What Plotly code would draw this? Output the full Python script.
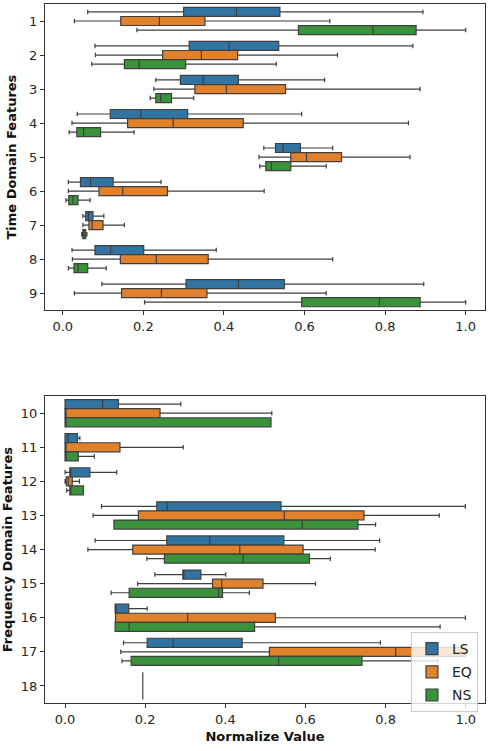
import plotly.graph_objects as go

# ---------------- data ----------------
TIME_FEATURES = ["1", "2", "3", "4", "5", "6", "7", "8", "9"]
FREQ_FEATURES = ["10", "11", "12", "13", "14", "15", "16", "17", "18"]
GROUPS = ["LS", "EQ", "NS"]
X_TICKS = [0.0, 0.2, 0.4, 0.6, 0.8, 1.0]
X_TICK_LABELS = ["0.0", "0.2", "0.4", "0.6", "0.8", "1.0"]

# each row: (lower whisker, Q1, median, Q3, upper whisker)
LS_TIME = [
    (0.062, 0.300, 0.431, 0.539, 0.894),
    (0.080, 0.314, 0.413, 0.536, 0.869),
    (0.231, 0.292, 0.349, 0.436, 0.650),
    (0.036, 0.118, 0.194, 0.310, 0.593),
    (0.499, 0.528, 0.547, 0.590, 0.670),
    (0.014, 0.044, 0.069, 0.125, 0.244),
    (0.050, 0.057, 0.064, 0.075, 0.102),
    (0.023, 0.080, 0.119, 0.201, 0.381),
    (0.097, 0.306, 0.436, 0.550, 0.896),
]
EQ_TIME = [
    (0.029, 0.144, 0.240, 0.353, 0.663),
    (0.081, 0.248, 0.344, 0.434, 0.682),
    (0.226, 0.328, 0.406, 0.553, 0.887),
    (0.023, 0.161, 0.274, 0.448, 0.858),
    (0.487, 0.566, 0.605, 0.692, 0.862),
    (0.014, 0.090, 0.149, 0.260, 0.500),
    (0.050, 0.065, 0.073, 0.100, 0.153),
    (0.024, 0.143, 0.232, 0.361, 0.670),
    (0.029, 0.146, 0.245, 0.358, 0.654),
]
NS_TIME = [
    (0.184, 0.585, 0.770, 0.877, 1.000),
    (0.072, 0.153, 0.190, 0.305, 0.530),
    (0.217, 0.231, 0.243, 0.270, 0.325),
    (0.016, 0.035, 0.052, 0.094, 0.177),
    (0.489, 0.504, 0.518, 0.566, 0.654),
    (0.008, 0.015, 0.025, 0.038, 0.068),
    (0.047, 0.050, 0.052, 0.057, 0.060),
    (0.014, 0.028, 0.038, 0.062, 0.108),
    (0.203, 0.593, 0.786, 0.887, 1.000),
]
LS_FREQ = [
    (0.000, 0.000, 0.094, 0.133, 0.289),
    (0.000, 0.000, 0.007, 0.031, 0.037),
    (0.000, 0.012, 0.012, 0.062, 0.129),
    (0.091, 0.229, 0.255, 0.539, 0.999),
    (0.075, 0.254, 0.361, 0.546, 0.785),
    (0.224, 0.294, 0.296, 0.339, 0.401),
    (0.125, 0.125, 0.125, 0.159, 0.205),
    (0.146, 0.205, 0.270, 0.442, 0.787),
    (0.194, 0.194, 0.194, 0.194, 0.194),
]
EQ_FREQ = [
    (0.000, 0.000, 0.000, 0.237, 0.516),
    (0.000, 0.000, 0.000, 0.137, 0.295),
    (0.000, 0.003, 0.008, 0.018, 0.036),
    (0.070, 0.183, 0.547, 0.746, 0.934),
    (0.057, 0.169, 0.436, 0.594, 0.774),
    (0.181, 0.368, 0.391, 0.494, 0.625),
    (0.126, 0.126, 0.306, 0.525, 0.999),
    (0.139, 0.510, 0.825, 0.999, 1.000),
    (0.194, 0.194, 0.194, 0.194, 0.194),
]
NS_FREQ = [
    (0.000, 0.000, 0.000, 0.514, 0.514),
    (0.000, 0.000, 0.000, 0.033, 0.073),
    (0.004, 0.012, 0.012, 0.046, 0.046),
    (0.122, 0.122, 0.592, 0.731, 0.775),
    (0.204, 0.248, 0.445, 0.610, 0.662),
    (0.115, 0.160, 0.383, 0.393, 0.460),
    (0.125, 0.125, 0.160, 0.473, 0.936),
    (0.142, 0.165, 0.533, 0.741, 0.930),
    (0.194, 0.194, 0.194, 0.194, 0.194),
]

COLORS = {"LS": "#3274a1", "EQ": "#e1812c", "NS": "#3a923a"}
EDGE = "#3f3f3f"
FONT = "DejaVu Sans"

fig = go.Figure()


def add_boxes(cats, rows, name, xa, ya, show, align):
    fig.add_trace(go.Box(
        y=cats,
        lowerfence=[r[0] for r in rows],
        q1=[r[1] for r in rows],
        median=[r[2] for r in rows],
        q3=[r[3] for r in rows],
        upperfence=[r[4] for r in rows],
        orientation="h",
        name=name,
        legendgroup=name,
        offsetgroup=name,
        alignmentgroup=align,
        showlegend=show,
        fillcolor=COLORS[name],
        line=dict(color=EDGE, width=1.2),
        whiskerwidth=0.5,
        boxpoints=False,
        xaxis=xa,
        yaxis=ya,
        hoverinfo="skip",
    ))


for name, rows in zip(GROUPS, [LS_TIME, EQ_TIME, NS_TIME]):
    add_boxes(TIME_FEATURES, rows, name, "x", "y", False, "top")
for name, rows in zip(GROUPS, [LS_FREQ, EQ_FREQ, NS_FREQ]):
    add_boxes(FREQ_FEATURES, rows, name, "x2", "y2", True, "bottom")

axis_common = dict(
    showline=True, mirror=True, linecolor="#333333", linewidth=1,
    ticks="outside", ticklen=4, tickcolor="#333333", showgrid=False,
    zeroline=False, tickfont=dict(family=FONT, size=13, color="#262626"),
)

fig.update_layout(
    width=490, height=751,
    margin=dict(l=45, r=5, t=4, b=48),
    paper_bgcolor="white", plot_bgcolor="white",
    boxmode="group", boxgap=0.2, boxgroupgap=0.005,
    font=dict(family=FONT, size=13, color="#262626"),
    xaxis=dict(domain=[0, 1], anchor="y", range=[-0.044, 1.048],
               tickvals=X_TICKS, ticktext=X_TICK_LABELS, **axis_common),
    yaxis=dict(domain=[0.562, 1.0], anchor="x", type="category",
               categoryorder="array", categoryarray=TIME_FEATURES,
               autorange="reversed",
               title=dict(text="<b>Time Domain Features</b>", standoff=9,
                          font=dict(family=FONT, size=13, color="#111111")),
               **axis_common),
    xaxis2=dict(domain=[0, 1], anchor="y2", range=[-0.05, 1.048],
                tickvals=X_TICKS, ticktext=X_TICK_LABELS,
                title=dict(text="<b>Normalize Value</b>", standoff=6,
                           font=dict(family=FONT, size=13, color="#111111")),
                **axis_common),
    yaxis2=dict(domain=[0.0, 0.439], anchor="x2", type="category",
                categoryorder="array", categoryarray=FREQ_FEATURES,
                autorange="reversed",
                title=dict(text="<b>Frequency Domain Features</b>", standoff=8,
                           font=dict(family=FONT, size=13, color="#111111")),
                **axis_common),
    legend=dict(x=0.984, y=0.1016, xanchor="right", yanchor="top",
                bgcolor="rgba(255,255,255,0.8)", bordercolor="#cccccc",
                borderwidth=1, font=dict(family=FONT, size=14, color="#262626"),
                tracegroupgap=2, itemwidth=30),
)

fig.write_html("out.html")
